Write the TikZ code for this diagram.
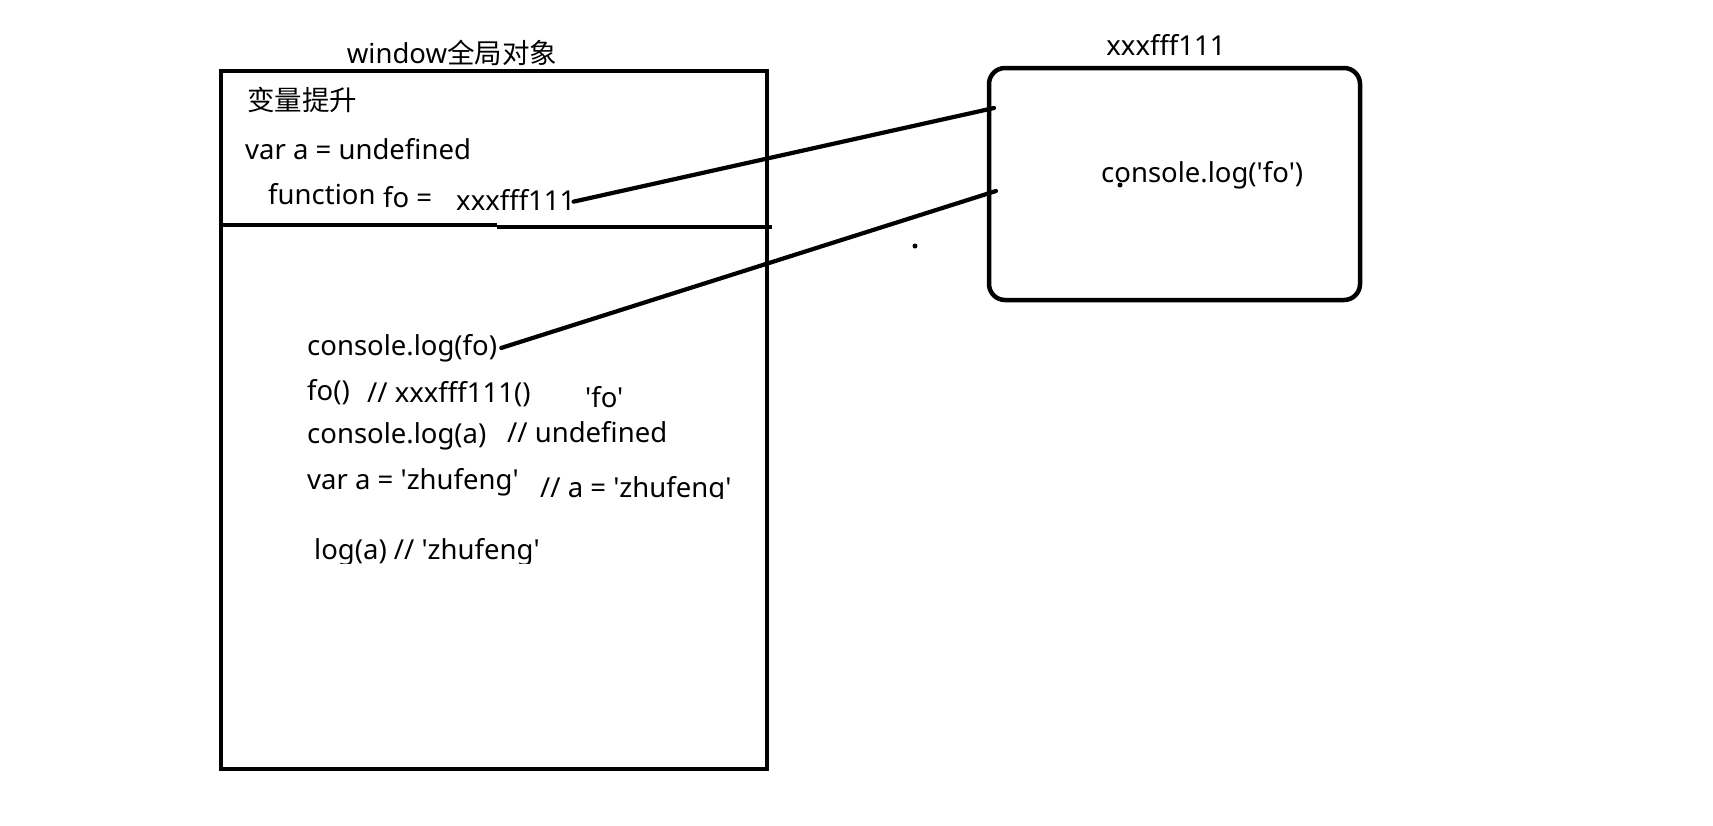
\documentclass[tikz,border=0pt]{standalone}
\usepackage{fontspec}
\newfontfamily\lat{Noto Sans}
\newfontfamily\cjk{Noto Sans CJK SC}
\begin{document}
\begin{tikzpicture}[x=1pt,y=-1pt]
\useasboundingbox[fill=white] (0,0) rectangle (1713,825);
\tikzset{
  box/.style={draw, line width=4.5pt, inner sep=0pt, outer sep=0pt},
  conn/.style={line width=4.2pt, line cap=round},
  txt/.style={font=\lat\fontsize{27.5}{32}\selectfont, inner sep=0pt, anchor=mid west},
  dotmark/.style={circle, fill=black, inner sep=0pt, minimum size=5pt}
}
% boxes
\node[box, anchor=north west, minimum width=546pt, minimum height=698pt] (win) at (221,71) {};
\node[box, anchor=north west, rounded corners=16pt, minimum width=371pt, minimum height=232pt] (fnbox) at (989,68) {};
% divider
\draw[line width=4.5pt] (win.west |- 0,225) -- (497,225);
\draw[line width=4.5pt] (497,227) -- (772,227);
% titles
\node[txt, anchor=center] (wtitle) at (452,53) {window{\cjk 全局对象}};
\node[txt, anchor=center] (ftitle) at (1166,45) {xxxfff111};
% hoisting section
\node[txt] (hoist) at (247,108) {\cjk 变量提升};
\node[txt] (vara) at (245,157) {var a = undefined};
\node[txt] (func) at (268,202) {function};
\node[txt] (foeq) at (383,205) {fo =};
\node[txt] (addr) at (456,208) {xxxfff111};
% function body
\node[txt] (fbody) at (1101,180) {console.log('fo')};
\node[dotmark] (d1) at (1120,185) {};
\node[dotmark] (d2) at (915,246) {};
% execution section
\node[txt] (l1) at (307,353) {console.log(fo)};
\node[txt] (l2a) at (307,398) {fo()};
\node[txt] (l2b) at (367,400) {// xxxfff111()};
\node[txt] (l2c) at (585,405) {'fo'};
\node[txt] (l3a) at (307,441) {console.log(a)};
\node[txt] (l3b) at (507,440) {// undefined};
\node[txt] (l4a) at (307,487) {var a = 'zhufeng'};
\begin{scope}
\clip (0,0) rectangle (1713,498);
\node[txt] (l4b) at (540,495) {// a = 'zhufeng'};
\end{scope}
\begin{scope}
\clip (0,0) rectangle (1713,563);
\node[txt] (l5) at (314,557) {log(a) // 'zhufeng'};
\end{scope}
% connectors
\coordinate (e1) at (994,108);
\coordinate (e2) at (996,191);
\draw[conn] ([xshift=-2pt,yshift=-2pt]addr.east) -- (e1);
\draw[conn] ([xshift=4pt]l1.east) -- (e2);
\end{tikzpicture}
\end{document}
